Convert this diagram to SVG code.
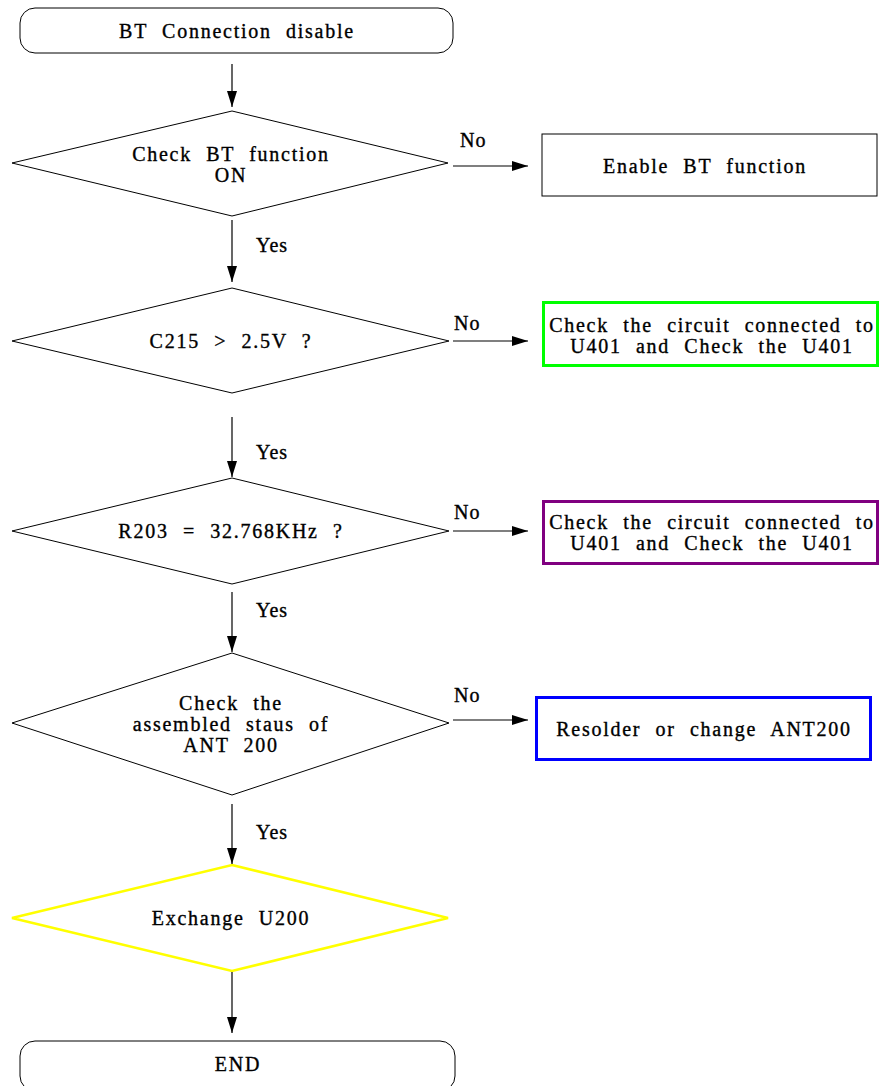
<svg xmlns="http://www.w3.org/2000/svg" width="880" height="1086" viewBox="0 0 880 1086">
<style>
text{font-family:"Liberation Serif","DejaVu Serif",serif;font-size:20px;fill:#000;stroke:#000;stroke-width:0.35;text-anchor:middle;dominant-baseline:central;letter-spacing:1.75px;word-spacing:7.5px}
.lbl{text-anchor:start;word-spacing:0;letter-spacing:1px}
.shape{fill:#fff;stroke:#000;stroke-width:1}
.conn line{stroke:#000;stroke-width:1.2;marker-end:url(#ah)}
</style>
<defs>
<marker id="ah" viewBox="0 0 16 10" refX="16" refY="5" markerWidth="16" markerHeight="10" markerUnits="userSpaceOnUse" orient="auto">
<path d="M0,0 L16,5 L0,10 Z" fill="#000"/>
</marker>
</defs>
<rect width="880" height="1086" fill="#fff"/>
<g id="start"><rect class="shape" x="20" y="8" width="433" height="45" rx="15"/><text x="237" y="31">BT Connection disable</text></g>
<g id="d1"><polygon class="shape" points="232,111 448,163 232,216 12,163"/><text x="231" y="154">Check BT function</text><text x="231" y="175">ON</text></g>
<g id="b1"><rect class="shape" x="542" y="134" width="335" height="62"/><text x="705" y="166">Enable BT function</text></g>
<g id="d2"><polygon class="shape" points="232,288 449,341 232,393 12,341"/><text x="231" y="341">C215 &gt; 2.5V ?</text></g>
<g id="b2"><rect x="543.5" y="302.5" width="334" height="63" fill="#fff" stroke="#00ff00" stroke-width="3"/><text x="712" y="325">Check the circuit connected to</text><text x="712" y="346">U401 and Check the U401</text></g>
<g id="d3"><polygon class="shape" points="232,478 449,531 232,584 12,531"/><text x="231" y="531">R203 = 32.768KHz ?</text></g>
<g id="b3"><rect x="543.5" y="501.5" width="334" height="62" fill="#fff" stroke="#800080" stroke-width="3"/><text x="712" y="522">Check the circuit connected to</text><text x="712" y="543">U401 and Check the U401</text></g>
<g id="d4"><polygon class="shape" points="232,653 449,723 232,795 12,723"/><text x="231" y="703">Check the</text><text x="231" y="724">assembled staus of</text><text x="231" y="745">ANT 200</text></g>
<g id="b4"><rect x="536.5" y="697.5" width="334" height="62" fill="#fff" stroke="#0000ff" stroke-width="3"/><text x="704" y="729">Resolder or change ANT200</text></g>
<g id="d5"><polygon points="232,865 448,918 232,971 12,918" fill="#fff" stroke="#ffff00" stroke-width="2.5"/><text x="231" y="918">Exchange U200</text></g>
<g id="end"><rect class="shape" x="20" y="1041" width="435" height="50" rx="15"/><text x="238" y="1064">END</text></g>
<g class="conn">
<line x1="232" y1="64" x2="232" y2="107"/>
<line x1="453" y1="166" x2="528" y2="166"/>
<line x1="232" y1="220" x2="232" y2="282"/>
<line x1="453" y1="341" x2="528" y2="341"/>
<line x1="232" y1="417" x2="232" y2="477"/>
<line x1="453" y1="531" x2="528" y2="531"/>
<line x1="232" y1="592" x2="232" y2="652"/>
<line x1="453" y1="720" x2="528" y2="720"/>
<line x1="232" y1="804" x2="232" y2="864"/>
<line x1="232" y1="972" x2="232" y2="1033"/>
</g>
<g id="labels">
<text class="lbl" x="460" y="140">No</text>
<text class="lbl" x="256" y="245">Yes</text>
<text class="lbl" x="454" y="323">No</text>
<text class="lbl" x="256" y="452">Yes</text>
<text class="lbl" x="454" y="512">No</text>
<text class="lbl" x="256" y="610">Yes</text>
<text class="lbl" x="454" y="695">No</text>
<text class="lbl" x="256" y="832">Yes</text>
</g>
</svg>
